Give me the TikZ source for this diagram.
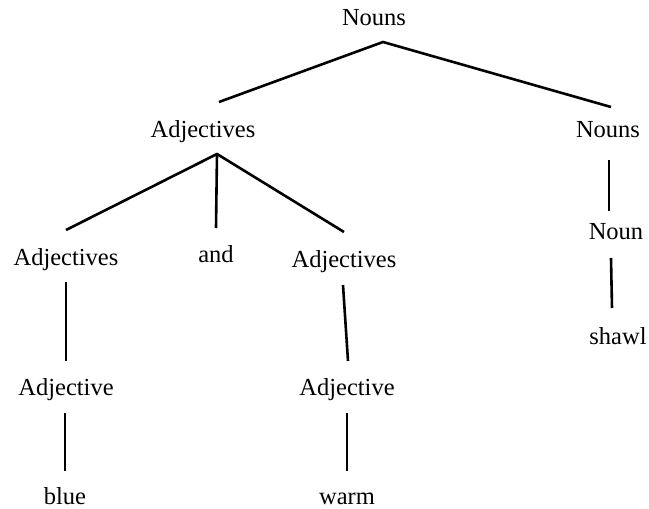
\documentclass[tikz,border=0pt]{standalone}
\usepackage{fontspec}
\setmainfont{Liberation Serif}
\begin{document}
\begin{tikzpicture}[x=1pt,y=-1pt,
  lbl/.style={anchor=base,inner sep=0pt,font=\fontsize{24.5}{29}\selectfont},
  edge/.style={line width=2.6pt}]
\useasboundingbox (0,0) rectangle (649,509);
% text nodes
\node[lbl] (n0) at (374,25) {Nouns};
\node[lbl] (a1) at (203,137) {Adjectives};
\node[lbl] (n1) at (608,137) {Nouns};
\node[lbl] (a2) at (66,265) {Adjectives};
\node[lbl] (and) at (216,262) {and};
\node[lbl] (a3) at (344,267) {Adjectives};
\node[lbl] (n2) at (616,239) {Noun};
\node[lbl] (j1) at (66,395) {Adjective};
\node[lbl] (j2) at (347,395) {Adjective};
\node[lbl] (sh) at (618,344) {shawl};
\node[lbl] (bl) at (65,504) {blue};
\node[lbl] (wm) at (347,504) {warm};
% connector end points
\coordinate (n0b) at (383,42);
\coordinate (a1t) at (219,102);
\coordinate (n1t) at (611,107);
\coordinate (a1b) at (217,154);
\coordinate (a2t) at (66,230);
\coordinate (andt) at (216,228);
\coordinate (a3t) at (344,232);
\coordinate (n1b) at (609,160);
\coordinate (n2t) at (609,211);
\coordinate (n2b) at (611,258);
\coordinate (sht) at (612,308);
\coordinate (a2b) at (66,282);
\coordinate (j1t) at (66,361);
\coordinate (j1b) at (65,413);
\coordinate (blt) at (65,471);
\coordinate (a3b) at (343,285);
\coordinate (j2t) at (348,361);
\coordinate (j2b) at (347,413);
\coordinate (wmt) at (347,471);
% connectors
\draw[edge] (a1t) -- (n0b) -- (n1t);
\draw[edge] (a2t) -- (a1b) -- (a3t);
\draw[edge] (a1b) -- (andt);
\draw[edge] (n1b) -- (n2t);
\draw[edge] (n2b) -- (sht);
\draw[edge] (a2b) -- (j1t);
\draw[edge] (j1b) -- (blt);
\draw[edge] (a3b) -- (j2t);
\draw[edge] (j2b) -- (wmt);
\end{tikzpicture}
\end{document}
